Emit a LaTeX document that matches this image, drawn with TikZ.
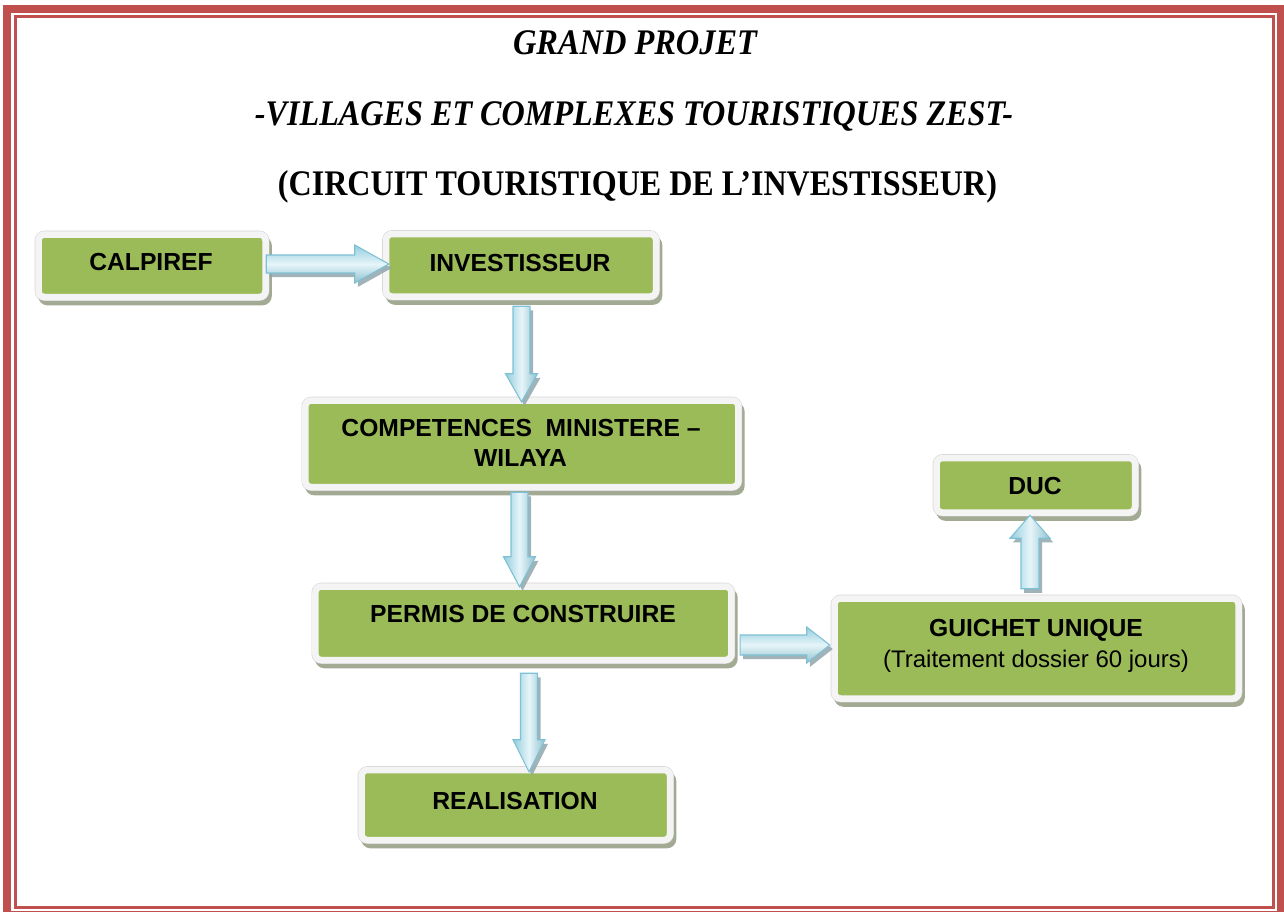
\documentclass[tikz,border=0pt]{standalone}
\usepackage{fontspec}
\setmainfont{Liberation Serif}
\newfontfamily\arialf{Liberation Sans}
\usetikzlibrary{calc}
\definecolor{framered}{HTML}{C0504D}
\definecolor{boxgreen}{HTML}{9BBB59}
\definecolor{rimcol}{HTML}{F4F4F4}
\definecolor{rimedge}{HTML}{D6D6D6}
\definecolor{boxshadow}{HTML}{A2AA94}
\definecolor{arrdark}{HTML}{93CDDD}
\definecolor{arrlight}{HTML}{E6F5F9}
\definecolor{arredge}{HTML}{7EC1D5}
\definecolor{arrshadow}{HTML}{8FA6AD}

% horizontal (rightward) block arrow: start, end, half shaft, half head, head length (px)
\newcommand\rarrow[5]{%
  \path[arrshad] let \p1=#1, \p2=#2 in
    ({\x1},{\y1+#3*0.75pt}) -- ({\x2-#5*0.75pt},{\y1+#3*0.75pt}) -- ({\x2-#5*0.75pt},{\y1+#4*0.75pt})
    -- ({\x2},{\y1}) -- ({\x2-#5*0.75pt},{\y1-#4*0.75pt}) -- ({\x2-#5*0.75pt},{\y1-#3*0.75pt})
    -- ({\x1},{\y1-#3*0.75pt}) -- cycle;
  \path[harrbody] let \p1=#1, \p2=#2 in
    ({\x1},{\y1+#3*0.75pt}) -- ({\x2-#5*0.75pt},{\y1+#3*0.75pt}) -- ({\x2-#5*0.75pt},{\y1+#4*0.75pt})
    -- ({\x2},{\y1}) -- ({\x2-#5*0.75pt},{\y1-#4*0.75pt}) -- ({\x2-#5*0.75pt},{\y1-#3*0.75pt})
    -- ({\x1},{\y1-#3*0.75pt}) -- cycle;}
% vertical block arrow: start, end, half shaft, half head, signed head length (px; + down, - up)
\newcommand\varrow[5]{%
  \path[arrshad] let \p1=#1, \p2=#2 in
    ({\x1-#3*0.75pt},{\y1}) -- ({\x1-#3*0.75pt},{\y2+(#5)*0.75pt}) -- ({\x1-#4*0.75pt},{\y2+(#5)*0.75pt})
    -- ({\x1},{\y2}) -- ({\x1+#4*0.75pt},{\y2+(#5)*0.75pt}) -- ({\x1+#3*0.75pt},{\y2+(#5)*0.75pt})
    -- ({\x1+#3*0.75pt},{\y1}) -- cycle;
  \path[varrbody] let \p1=#1, \p2=#2 in
    ({\x1-#3*0.75pt},{\y1}) -- ({\x1-#3*0.75pt},{\y2+(#5)*0.75pt}) -- ({\x1-#4*0.75pt},{\y2+(#5)*0.75pt})
    -- ({\x1},{\y2}) -- ({\x1+#4*0.75pt},{\y2+(#5)*0.75pt}) -- ({\x1+#3*0.75pt},{\y2+(#5)*0.75pt})
    -- ({\x1+#3*0.75pt},{\y1}) -- cycle;}

\begin{document}
\begin{tikzpicture}[x=0.75pt,y=-0.75pt,
  greenbox/.style={rectangle, rounded corners=4.5pt, fill=boxgreen, draw=rimcol,
     line width=4.875pt, inner sep=0pt,
     preaction={draw=boxshadow, fill=boxshadow, line width=4.875pt, transform canvas={shift={(3,5)}}},
     preaction={draw=rimedge, line width=5.7pt}},
  btxt/.style={font=\arialf\bfseries\fontsize{18.5}{22}\selectfont, anchor=base, inner sep=0pt},
  rtxt/.style={font=\arialf\fontsize{18}{22}\selectfont, anchor=base, inner sep=0pt},
  ttl/.style={anchor=base, inner sep=0pt},
  arrshad/.style={fill=arrshadow, opacity=0.85, transform canvas={shift={(3,4)}}},
  harrbody/.style={draw=arredge, line width=0.8pt, top color=arrdark, bottom color=arrdark!85!gray, middle color=arrlight},
  varrbody/.style={draw=arredge, line width=0.8pt, left color=arrdark, right color=arrdark!85!gray, middle color=arrlight}]
\useasboundingbox (0,0) rectangle (1284,911);
\fill[white] (0,0) rectangle (1284,911);

% page border
\draw[framered, line width=6pt] (7,9) rectangle (1281,915);
\draw[framered, line width=2.25pt] (15.5,16.5) rectangle (1273,907);

% titles
\node[ttl] (t1) at (635,54) {\resizebox{183pt}{\height}{\fontsize{27}{32}\selectfont\bfseries\itshape GRAND PROJET}};
\node[ttl] (t2) at (634,125) {\resizebox{568.5pt}{\height}{\fontsize{27}{32}\selectfont\bfseries\itshape -VILLAGES ET COMPLEXES TOURISTIQUES ZEST-}};
\node[ttl] (t3) at (637.5,195) {\resizebox{539.25pt}{\height}{\fontsize{27}{32}\selectfont\bfseries (CIRCUIT TOURISTIQUE DE L’INVESTISSEUR)}};

% boxes
\node[greenbox, minimum width=170.25pt, minimum height=46.875pt] (calp) at (152,265.75) {};
\node[greenbox, minimum width=202.5pt, minimum height=46.875pt] (inv) at (521,265.25) {};
\node[greenbox, minimum width=324.75pt, minimum height=64.875pt] (comp) at (521.8,443.75) {};
\node[greenbox, minimum width=312pt, minimum height=55.125pt] (perm) at (523.4,623.25) {};
\node[greenbox, minimum width=231.375pt, minimum height=52.5pt] (real) at (515.75,805) {};
\node[greenbox, minimum width=148.875pt, minimum height=40.875pt] (duc) at (1035.75,485.25) {};
\node[greenbox, minimum width=303pt, minimum height=75pt] (gu) at (1036.5,648.5) {};

% box texts
\node[btxt] (calpt) at (151,270) {CALPIREF};
\node[btxt] (invt) at (520,271) {INVESTISSEUR};
\node[btxt] (compt1) at (521,436) {COMPETENCES\ \ MINISTERE –};
\node[btxt] (compt2) at (520.5,466) {WILAYA};
\node[btxt] (permt) at (523,622) {PERMIS DE CONSTRUIRE};
\node[btxt] (realt) at (515,809) {REALISATION};
\node[btxt] (duct) at (1035,494) {DUC};
\node[btxt] (gut1) at (1036,636) {GUICHET UNIQUE};
\node[rtxt] (gut2) at (1036,667) {(Traitement dossier 60 jours)};

% block arrows
\rarrow{([shift={(-2.5,-1.75)}]calp.east)}{([shift={(6,-1.25)}]inv.west)}{9}{19}{34}
\varrow{([shift={(0.5,6.5)}]inv.south)}{([shift={(0,4.5)}]comp.north)}{8.5}{16}{28}
\varrow{([shift={(-2.3,2)}]comp.south)}{([shift={(0,3.5)}]perm.north)}{8.5}{16}{30}
\varrow{([shift={(5.6,10)}]perm.south)}{([shift={(0,5)}]real.north)}{8.5}{16}{32}
\rarrow{([shift={(5.5,21.75)}]perm.east)}{([shift={(-1.5,-3.5)}]gu.west)}{10}{18}{23}
\varrow{([shift={(-6.5,-6.5)}]gu.north)}{([shift={(0,-0.5)}]duc.south)}{9}{20}{-23}
\end{tikzpicture}
\end{document}
